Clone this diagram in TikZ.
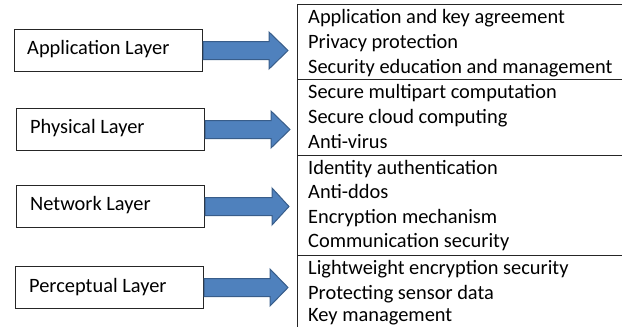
\documentclass[tikz,border=0pt]{standalone}
\usepackage{fontspec}
\setmainfont{Carlito}
\usetikzlibrary{calc}
\definecolor{arrowfill}{HTML}{4F81BD}
\definecolor{arrowline}{HTML}{385D8A}
\tikzset{
  layerbox/.style={draw=black!85, line width=1pt, minimum width=188pt, minimum height=42pt, anchor=north west, inner sep=0pt},
  layertext/.style={font=\fontsize{20.4}{24}\selectfont, anchor=base west, inner sep=0pt},
  itemtext/.style={font=\fontsize{20.4}{24}\selectfont, anchor=base west, inner sep=0pt},
  blockarrow/.style={fill=arrowfill, draw=arrowline, line width=1pt, line join=miter},
  rule/.style={draw=black!85, line width=1pt}
}
\begin{document}
\begin{tikzpicture}[x=1pt,y=-1pt]
\useasboundingbox (0,0) rectangle (622,327);
% left boxes
\node[layerbox] (app) at (14,29) {};
\node[layerbox] (phy) at (16,108) {};
\node[layerbox] (net) at (16,185) {};
\node[layerbox] (per) at (15,266) {};
\node[layertext] (appt) at (27,54) {Application Layer};
\node[layertext] (phyt) at (30,133) {Physical Layer};
\node[layertext] (nett) at (30,210) {Network Layer};
\node[layertext] (pert) at (29,292.5) {Perceptual Layer};
% arrows
\draw[blockarrow] ($(app.east)+(0,-9)$) -- ++(66,0) -- ++(0,-9.5) -- ++(19,18.5) -- ++(-19,18.5) -- ++(0,-9.5) -- ++(-66,0) -- cycle;
\draw[blockarrow] ($(phy.east)+(0,-9)$) -- ++(66,0) -- ++(0,-9.5) -- ++(19,18.5) -- ++(-19,18.5) -- ++(0,-9.5) -- ++(-66,0) -- cycle;
\draw[blockarrow] ($(net.east)+(0,-9)$) -- ++(67,0) -- ++(0,-9.5) -- ++(17,18.5) -- ++(-17,18.5) -- ++(0,-9.5) -- ++(-67,0) -- cycle;
\draw[blockarrow] ($(per.east)+(0,-9)$) -- ++(66,0) -- ++(0,-9.5) -- ++(18,18.5) -- ++(-18,18.5) -- ++(0,-9.5) -- ++(-66,0) -- cycle;
% right table
\coordinate (tl) at (297,4.5);
\coordinate (tr) at (622,4.5);
\coordinate (bl) at (297,327);
\draw[rule] (tl) -- (tr);
\draw[rule] (tl) -- (bl);
\coordinate (s1l) at (297,79.5);  \coordinate (s1r) at (622,79.5);
\coordinate (s2l) at (297,155);  \coordinate (s2r) at (622,155);
\coordinate (s3l) at (297,255.5);  \coordinate (s3r) at (622,255.5);
\draw[rule] (s1l) -- (s1r);
\draw[rule] (s2l) -- (s2r);
\draw[rule] (s3l) -- (s3r);
% items
\node[itemtext] (i1) at (308,23.5) {Application and key agreement};
\node[itemtext] (i2) at (308,48.5) {Privacy protection};
\node[itemtext] (i3) at (308,73.5) {Security education and management};
\node[itemtext] (i4) at (308,98.5) {Secure multipart computation};
\node[itemtext] (i5) at (308,123.5) {Secure cloud computing};
\node[itemtext] (i6) at (308,148.5) {Anti-virus};
\node[itemtext] (i7) at (308,174.5) {Identity authentication};
\node[itemtext] (i8) at (308,198.5) {Anti-ddos};
\node[itemtext] (i9) at (308,223.5) {Encryption mechanism};
\node[itemtext] (i10) at (308,247.5) {Communication security};
\node[itemtext] (i11) at (308,274.5) {Lightweight encryption security};
\node[itemtext] (i12) at (308,299) {Protecting sensor data};
\node[itemtext] (i13) at (308,321.5) {Key management};
\end{tikzpicture}
\end{document}
